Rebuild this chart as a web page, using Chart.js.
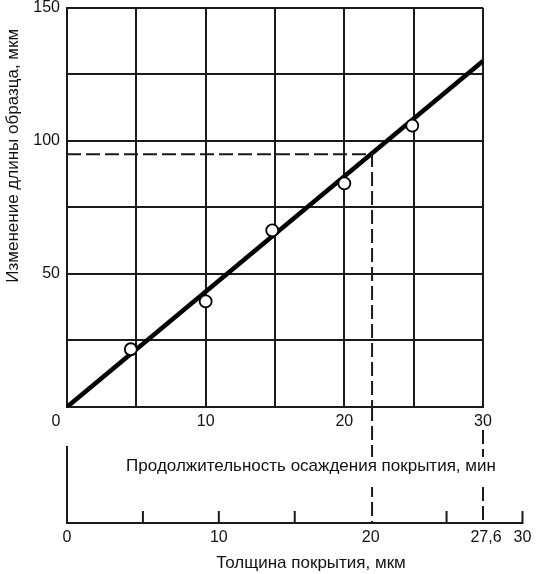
<!DOCTYPE html>
<html>
<head>
<meta charset="utf-8">
<script src="https://cdn.jsdelivr.net/npm/chart.js@4.4.1/dist/chart.umd.min.js"></script>
<style>
  html, body { margin: 0; padding: 0; background: #fff; }
</style>
</head>
<body>
<canvas id="chart" width="539" height="574"></canvas>
<script>
// measured points: deposition time (min) -> change of sample length (um)
const timeMin = [4.6, 10.0, 14.8, 20.0, 24.9]
const lengthChange = [21.7, 39.7, 66.4, 84.0, 105.7]

// fitted straight line
const fitTime = [0, 30]
const fitLength = [0, 130]

// reading example: 95 um -> 22 min -> 20 um, and 30 min -> 27,6 um
const readLength = 95
const readTime = 22
const endTime = 30

// second (thickness) axis
const thicknessMax = 27.4
const thicknessTicks = [0, 5, 10, 15, 20, 25, 30]
const thicknessLabelValues = [0, 10, 20, 27.6, 30]
const thicknessLabels = ['0', '10', '20', '27,6', '30']

const yTitle = 'Изменение длины образца, мкм'
const timeTitle = 'Продолжительность осаждения покрытия, мин'
const thicknessTitle = 'Толщина покрытия, мкм'

const FONT = '"Liberation Sans", Arial, sans-serif'
const INK = '#1a1a1a'

Chart.defaults.font.family = FONT
Chart.defaults.font.size = 16
Chart.defaults.color = '#111'

const extras = {
  id: 'extras',
  afterDraw(chart) {
    const { ctx, chartArea: a, scales } = chart
    const x = scales.x, x2 = scales.x2
    const axisY = a.bottom + 116
    ctx.save()
    ctx.strokeStyle = INK
    ctx.lineWidth = 2

    // dashed continuations down to the thickness axis
    ctx.setLineDash([14, 5])
    ctx.beginPath()
    ctx.moveTo(x.getPixelForValue(readTime), a.bottom)
    ctx.lineTo(x.getPixelForValue(readTime), axisY)
    ctx.moveTo(x.getPixelForValue(endTime), a.bottom + 23)
    ctx.lineTo(x.getPixelForValue(endTime), axisY)
    ctx.stroke()
    ctx.setLineDash([])

    // thickness axis line, left stub and ticks
    const x0 = x2.getPixelForValue(0)
    ctx.beginPath()
    ctx.moveTo(x0, a.bottom + 39)
    ctx.lineTo(x0, axisY)
    ctx.lineTo(x2.getPixelForValue(30) + 1, axisY)
    thicknessTicks.forEach(v => {
      if (v === 0 || v === 20) return
      const px = x2.getPixelForValue(v)
      ctx.moveTo(px, axisY)
      ctx.lineTo(px, axisY - 12)
    })
    ctx.stroke()

    ctx.font = '16px ' + FONT
    ctx.textAlign = 'center'
    ctx.textBaseline = 'middle'
    ctx.fillStyle = '#111'
    thicknessLabelValues.forEach((v, i) => {
      ctx.fillText(thicknessLabels[i], x2.getPixelForValue(v), axisY + 15)
    })

    // time axis title, blanking the dashes behind it
    ctx.font = '17px ' + FONT
    const cx = a.left + 244
    const w = ctx.measureText(timeTitle).width
    ctx.fillStyle = '#fff'
    ctx.fillRect(cx - w / 2 - 2, a.bottom + 50, w + 4, 30)
    ctx.fillStyle = '#111'
    ctx.fillText(timeTitle, cx, a.bottom + 59)
    ctx.fillText(thicknessTitle, cx, a.bottom + 156)

    // y axis title
    ctx.translate(13, a.top + 148)
    ctx.rotate(-Math.PI / 2)
    ctx.fillText(yTitle, 0, 0)
    ctx.restore()
  }
}

new Chart(document.getElementById('chart'), {
  type: 'scatter',
  data: {
    datasets: [
      {
        type: 'line',
        data: fitTime.map((t, i) => ({ x: t, y: fitLength[i] })),
        borderColor: '#000',
        borderWidth: 4.5,
        pointRadius: 0,
        order: 2,
      },
      {
        type: 'line',
        data: [{ x: 0, y: readLength }, { x: readTime, y: readLength }, { x: readTime, y: 0 }],
        borderColor: INK,
        borderWidth: 2,
        borderDash: [14, 5],
        pointRadius: 0,
        order: 1,
      },
      {
        data: timeMin.map((t, i) => ({ x: t, y: lengthChange[i] })),
        pointRadius: 6,
        pointBackgroundColor: '#fff',
        pointBorderColor: '#000',
        pointBorderWidth: 1.8,
        order: 0,
      },
    ],
  },
  options: {
    responsive: false,
    animation: false,
    layout: { padding: { top: 7, right: 56, left: 0, bottom: 0 } },
    plugins: { legend: { display: false }, tooltip: { enabled: false } },
    scales: {
      x: {
        type: 'linear',
        min: 0,
        max: 30,
        ticks: {
          stepSize: 5,
          autoSkip: false,
          maxRotation: 0,
          padding: 5,
          // the origin label sits a little left of the corner
          callback: v => (v === 0 ? '0     ' : v % 10 === 0 ? v : ''),
        },
        grid: { color: INK, lineWidth: 2, drawTicks: false },
        border: { color: INK, width: 2 },
        afterFit: s => { s.height = 167 },
      },
      y: {
        min: 0,
        max: 150,
        ticks: {
          stepSize: 25,
          padding: 7,
          callback: v => (v > 0 && v % 50 === 0 ? v : ''),
        },
        grid: { color: INK, lineWidth: 2, drawTicks: false },
        border: { color: INK, width: 2 },
        afterFit: s => { s.width = 67; s.paddingTop = 0; s.paddingBottom = 0 },
      },
      x2: { type: 'linear', display: false, min: 0, max: thicknessMax },
    },
  },
  plugins: [extras],
})
</script>
</body>
</html>
